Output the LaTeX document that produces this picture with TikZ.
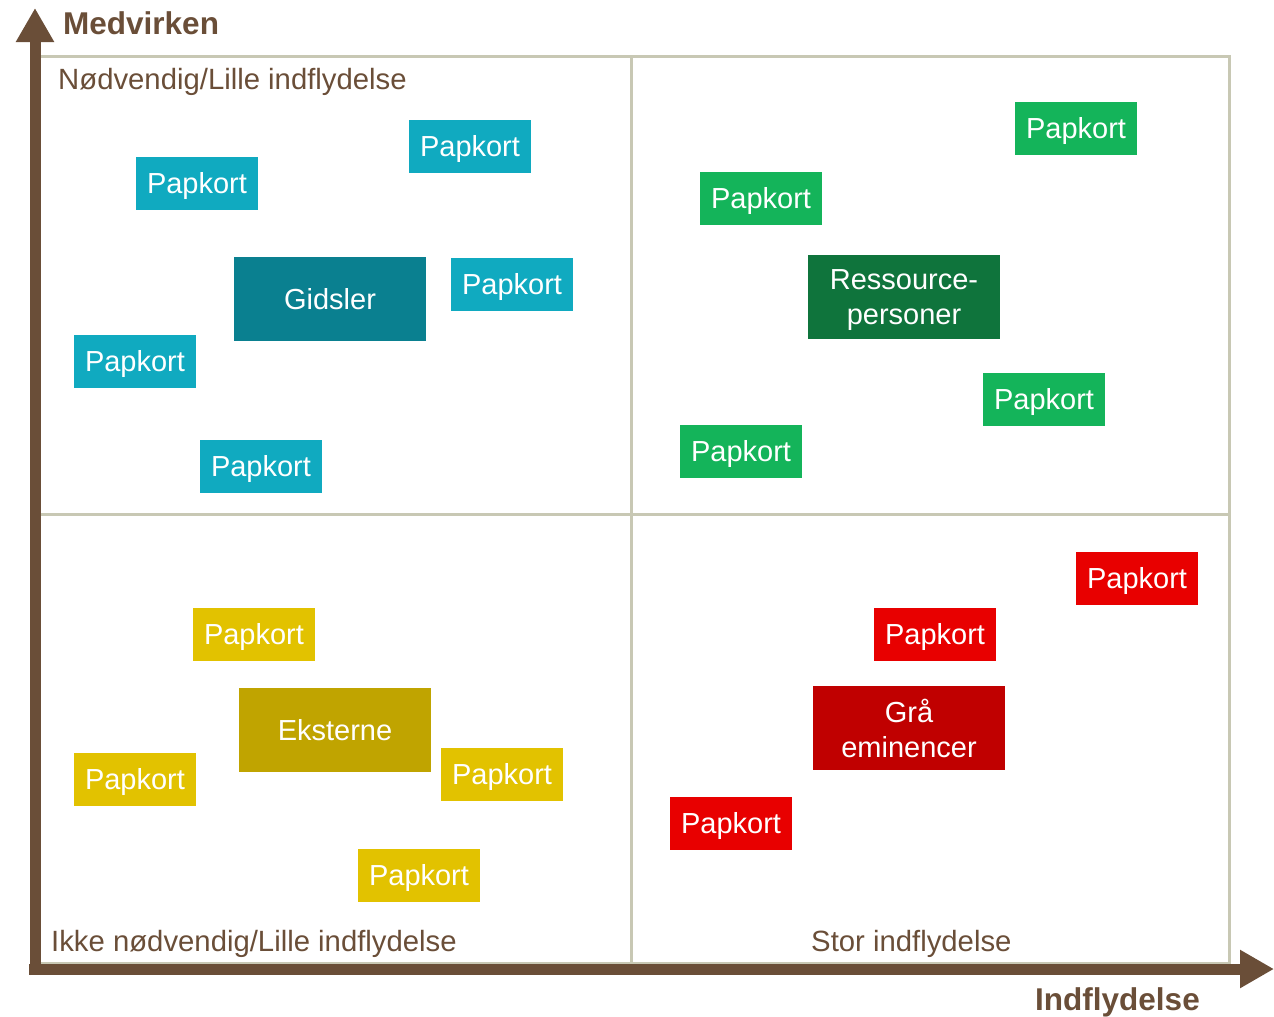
\documentclass[tikz,border=0pt]{standalone}
\usepackage{fontspec}
\setmainfont{Liberation Sans}
\usetikzlibrary{arrows.meta}

\definecolor{axisbrown}{HTML}{6A4E38}
\definecolor{gridgrey}{HTML}{C8C8B4}
\definecolor{cardblue}{HTML}{10AAC0}
\definecolor{keyblue}{HTML}{0A8090}
\definecolor{cardgreen}{HTML}{14B45A}
\definecolor{keygreen}{HTML}{0F743C}
\definecolor{cardyellow}{HTML}{E2C200}
\definecolor{keyyellow}{HTML}{C0A400}
\definecolor{cardred}{HTML}{E80000}
\definecolor{keyred}{HTML}{C00000}

\tikzset{
  card/.style={minimum width=122pt, minimum height=53pt, inner sep=0pt,
    text depth=0pt, text=white, font=\fontsize{29}{35}\selectfont},
  keycard/.style={card, minimum width=192pt, minimum height=84pt, align=center},
  quadlabel/.style={anchor=west, inner sep=0pt, text depth=0pt, text=axisbrown,
    font=\fontsize{29.3}{35}\selectfont},
  axislabel/.style={anchor=west, inner sep=0pt, text=axisbrown,
    font=\fontsize{31.5}{36}\selectfont\bfseries},
  axisline/.style={axisbrown, line width=11pt,
    -{Triangle[length=34pt,width=36pt]}}
}

\begin{document}
\begin{tikzpicture}[x=1pt,y=-1pt]
\useasboundingbox (0,0) rectangle (1274,1017);

% quadrants
\draw[gridgrey, line width=3pt] (37,56) rectangle (1229,963);
\draw[gridgrey, line width=3pt] (37,514) -- (1229,514);
\draw[gridgrey, line width=3pt] (631,56) -- (631,963);

% axes
\coordinate (origin) at (35,969);
\coordinate (ytip) at (35,8);
\coordinate (xtip) at (1274,969);
\draw[axisline] (35,975) -- (ytip);
\draw[axisline] (29,969) -- (xtip);

\node[axislabel] (ylab) at (63,23) {Medvirken};
\node[axislabel, text depth=0pt] (xlab) at (1035,999) {Indflydelse};

\node[quadlabel] (ql1) at (58,79) {Nødvendig/Lille indflydelse};
\node[quadlabel] (ql2) at (51,941) {Ikke nødvendig/Lille indflydelse};
\node[quadlabel] (ql3) at (811,941) {Stor indflydelse};

% upper left
\node[card, fill=cardblue] (b1) at (470,146) {Papkort};
\node[card, fill=cardblue] (b2) at (197,183) {Papkort};
\node[card, fill=cardblue] (b3) at (512,284) {Papkort};
\node[card, fill=cardblue] (b4) at (135,361) {Papkort};
\node[card, fill=cardblue] (b5) at (261,466) {Papkort};
\node[keycard, fill=keyblue] (gidsler) at (330,299) {Gidsler};

% upper right
\node[card, fill=cardgreen] (g1) at (1076,128) {Papkort};
\node[card, fill=cardgreen] (g2) at (761,198) {Papkort};
\node[card, fill=cardgreen] (g3) at (1044,399) {Papkort};
\node[card, fill=cardgreen] (g4) at (741,451) {Papkort};
\node[keycard, fill=keygreen] (ressource) at (904,297) {Ressource-\\personer};

% lower left
\node[card, fill=cardyellow] (y1) at (254,634) {Papkort};
\node[card, fill=cardyellow] (y2) at (135,779) {Papkort};
\node[card, fill=cardyellow] (y3) at (502,774) {Papkort};
\node[card, fill=cardyellow] (y4) at (419,875) {Papkort};
\node[keycard, fill=keyyellow] (eksterne) at (335,730) {Eksterne};

% lower right
\node[card, fill=cardred] (r1) at (1137,578) {Papkort};
\node[card, fill=cardred] (r2) at (935,634) {Papkort};
\node[card, fill=cardred] (r3) at (731,823) {Papkort};
\node[keycard, fill=keyred] (graa) at (909,728) {Grå\\eminencer};
\end{tikzpicture}
\end{document}
